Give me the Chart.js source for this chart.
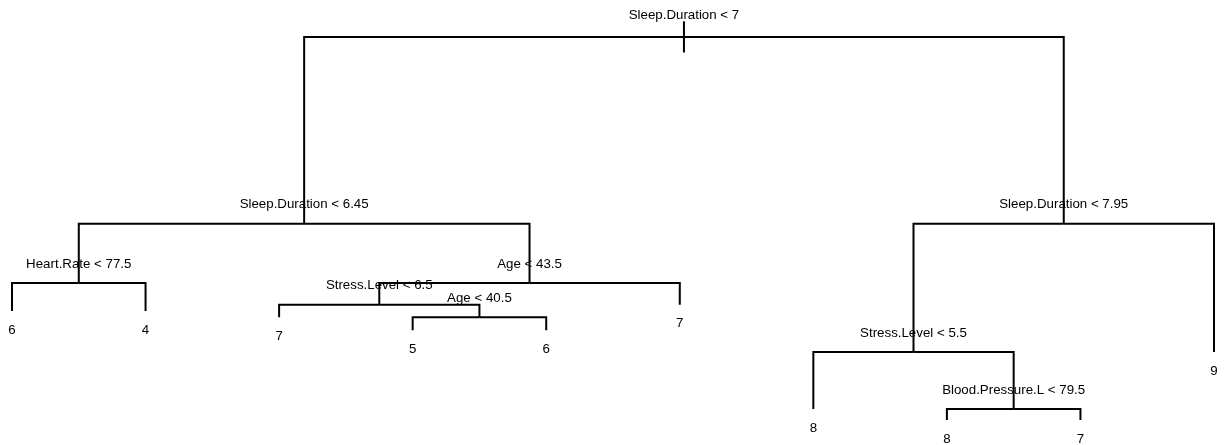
<!DOCTYPE html>
<html>
<head>
<meta charset="utf-8">
<script src="https://cdn.jsdelivr.net/npm/chart.js@4"></script>
<style>
  html, body { margin: 0; padding: 0; background: #fff; }
  #wrap { width: 1225px; height: 445px; position: relative; }
</style>
</head>
<body>
<div id="wrap"><canvas id="arvore"></canvas></div>
<script>
// nos da arvore (numeracao do R: filhos de n sao 2n e 2n+1), em ordem de percurso
const nos = [1, 2, 4, 8, 9, 5, 10, 20, 21, 42, 43, 11, 3, 6, 12, 13, 26, 27, 7];
const rotulos = [
  "Sleep.Duration < 7",
  "Sleep.Duration < 6.45",
  "Heart.Rate < 77.5",
  "6",
  "4",
  "Age < 43.5",
  "Stress.Level < 6.5",
  "7",
  "Age < 40.5",
  "5",
  "6",
  "7",
  "Sleep.Duration < 7.95",
  "Stress.Level < 5.5",
  "8",
  "Blood.Pressure.L < 79.5",
  "8",
  "7",
  "9",
];
// altura de cada no (desvio, escala 0-100)
const desvio = [
  91.7, 49.7, 36.4, 30.1, 30.1, 36.4, 31.5, 28.7, 28.7, 25.8, 25.8, 31.5,
  49.7, 20.9, 8.1, 8.1, 5.6, 5.6, 20.9,
];

const idx = {};
nos.forEach((n, i) => (idx[n] = i));
const ehFolha = (n) => idx[2 * n] === undefined;

// posicao x: folhas em 1..k na ordem, nos internos no meio dos filhos
const posX = {};
let contador = 0;
function layout(n) {
  if (ehFolha(n)) {
    contador++;
    posX[n] = contador;
    return posX[n];
  }
  posX[n] = (layout(2 * n) + layout(2 * n + 1)) / 2;
  return posX[n];
}
layout(1);
const totalFolhas = contador;

const estiloLinha = {
  borderColor: "#000",
  borderWidth: 2,
  pointRadius: 0,
  showLine: true,
  fill: false,
  tension: 0,
  borderCapStyle: "butt",
  borderJoinStyle: "miter",
};

const datasets = [];
nos.forEach((n) => {
  if (n === 1) return;
  const pai = Math.floor(n / 2);
  datasets.push({
    ...estiloLinha,
    data: [
      { x: posX[pai], y: desvio[idx[pai]] },
      { x: posX[n], y: desvio[idx[pai]] },
      { x: posX[n], y: desvio[idx[n]] },
    ],
  });
});
// traco da raiz
datasets.push({
  ...estiloLinha,
  data: [
    { x: posX[1], y: desvio[0] + 3.5 },
    { x: posX[1], y: desvio[0] - 3.5 },
  ],
});

const pluginRotulos = {
  id: "rotulos",
  afterDatasetsDraw(chart) {
    const { ctx, scales } = chart;
    ctx.save();
    ctx.fillStyle = "#000";
    ctx.font = '13.3px "Liberation Sans", Arial, sans-serif';
    ctx.textAlign = "center";
    ctx.textBaseline = "middle";
    nos.forEach((n, i) => {
      const px = scales.x.getPixelForValue(posX[n]);
      const py = scales.y.getPixelForValue(desvio[i]);
      if (ehFolha(n)) {
        ctx.fillText(rotulos[i], px, py + 19);
      } else {
        ctx.fillText(rotulos[i], px, py - (n === 1 ? 22 : 19));
      }
    });
    ctx.restore();
  },
};

new Chart(document.getElementById("arvore"), {
  type: "scatter",
  data: { datasets },
  options: {
    responsive: true,
    maintainAspectRatio: false,
    animation: false,
    layout: { padding: 0 },
    plugins: { legend: { display: false }, tooltip: { enabled: false } },
    scales: {
      x: { type: "linear", display: false, min: 1 - 12 / 133.55, max: totalFolhas + 11 / 133.55 },
      y: { type: "linear", display: false, min: 0, max: 100 },
    },
  },
  plugins: [pluginRotulos],
});
</script>
</body>
</html>
